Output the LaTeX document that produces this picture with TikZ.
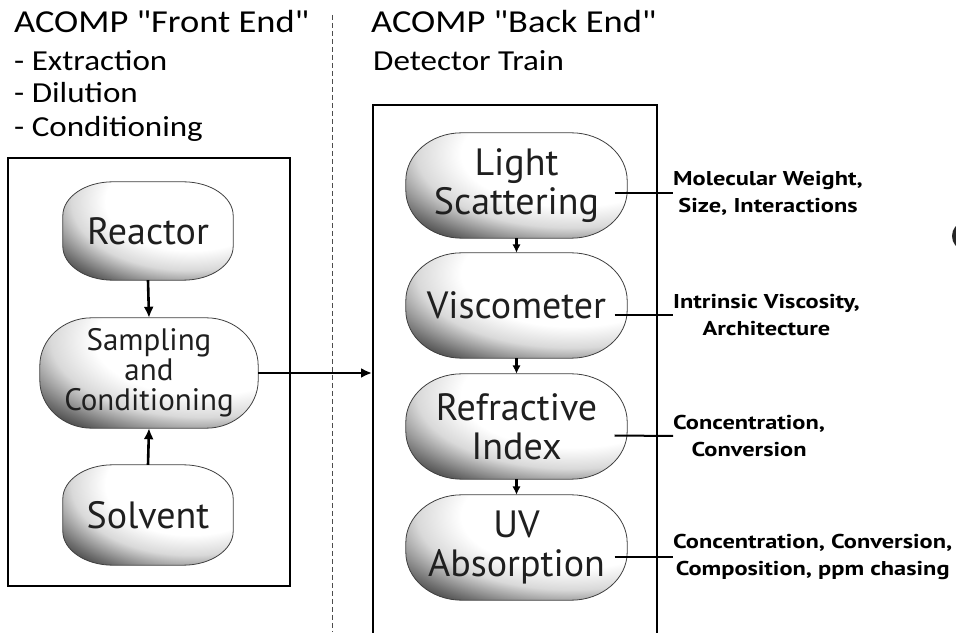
\documentclass[tikz,border=0pt]{standalone}
\usepackage{fontspec}
\setmainfont{Carlito}
\newfontfamily\headfont{Carlito}[FakeStretch=1.14, Ligatures=TeXOff]
\newfontfamily\nodefont{PT Sans}
\newfontfamily\labfont{PT Sans Bold}[FakeStretch=1.22]
\usetikzlibrary{arrows.meta,calc,backgrounds}
\pgfdeclareradialshading{glow}{\pgfpoint{0bp}{0bp}}{color(0bp)=(white); color(10bp)=(white); color(14bp)=(black!15); color(18bp)=(black!55); color(22bp)=(black!92); color(25bp)=(black); color(50bp)=(black)}
\newcommand\pillpath[3]{let \p1=(#1.south west), \p2=(#1.north east) in
 (\x1,\y1+#3pt) -- (\x1,\y2-#3pt) arc[start angle=180,end angle=90,x radius=#2,y radius=#3]
 -- (\x2-#2pt,\y2) arc[start angle=90,end angle=0,x radius=#2,y radius=#3]
 -- (\x2,\y1+#3pt) arc[start angle=0,end angle=-90,x radius=#2,y radius=#3]
 -- (\x1+#2pt,\y1) arc[start angle=270,end angle=180,x radius=#2,y radius=#3] -- cycle}
% node, rx, ry
\newcommand\pillshape[3]{%
 \begin{scope}
 \clip \pillpath{#1}{#2}{#3};
 \path[shade, shading=glow] let \p1=(#1.south west), \p2=(#1.north east),
   \p3=($(#1.center)+(0.25*\x2-0.25*\x1, 0.3*\y2-0.3*\y1)$) in
   (\p3) ellipse [x radius={1.25*(\x2-\x1)}, y radius={1.25*(\y2-\y1)}];
 \end{scope}
 \draw[pillbox] \pillpath{#1}{#2}{#3};}
\tikzset{
 pillbox/.style={draw=black!75, line width=0.8pt},
 pillnode/.style={inner sep=0pt, align=center, text=black!88, font=\nodefont},
 bigbox/.style={draw=black, line width=2pt, inner sep=0pt},
 conn/.style={draw=black, line width=2.6pt, -{Latex[length=11pt,width=10pt]}},
 smallconn/.style={draw=black, line width=2.2pt, -{Latex[length=8.5pt,width=8.5pt]}},
 tick/.style={line width=2pt},
 lab/.style={inner sep=0pt, align=center, font=\labfont\fontsize{20}{27}\selectfont, anchor=west},
 head/.style={inner sep=0pt, anchor=base west, font=\headfont\fontsize{32}{38}\selectfont},
 sub/.style={inner sep=0pt, anchor=base west, font=\headfont\fontsize{29}{32}\selectfont}
}
\begin{document}
\begin{tikzpicture}[x=1pt,y=1pt]
\clip (0,0) rectangle (956,632);
\useasboundingbox (0,0) rectangle (956,632);
% headings
\node[head] (h1) at (14,599) {ACOMP "Front End"};
\node[sub] (s1) at (14,561) {- Extraction};
\node[sub] (s2) at (14,529) {- Dilution};
\node[sub] (s3) at (14,495) {- Conditioning};
\node[head] (h2) at (371,599) {ACOMP "Back End"};
\node[sub] (s4) at (373,561) {Detector Train};
\coordinate (dtop) at (332,617);
\coordinate (dbot) at (332,0);
\draw[black!70, line width=0.9pt, dash pattern=on 5pt off 3pt] (dtop) -- (dbot);
% boxes
\node[bigbox, minimum width=282, minimum height=428] (lbox) at (149,260) {};
\node[bigbox, minimum width=284, minimum height=560] (rbox) at (515,247) {};
% left nodes
\node[pillnode, minimum width=170, minimum height=98, font=\nodefont\fontsize{38}{42}\selectfont] (reac) at (148,401) {Reactor};
\node[pillnode, minimum width=218, minimum height=110, font=\nodefont\fontsize{31}{30}\selectfont] (samp) at (149,259) {Sampling\\and\\Conditioning};
\node[pillnode, minimum width=170, minimum height=100, font=\nodefont\fontsize{38}{42}\selectfont] (solv) at (148,117) {Solvent};
% right nodes
\tikzset{rnode/.style={pillnode, minimum width=221, minimum height=105, font=\nodefont\fontsize{38}{39}\selectfont}}
\node[rnode] (ls) at (516.5,446.5) {Light\\Scattering};
\node[rnode] (vis) at (516.5,326.5) {Viscometer};
\node[rnode] (ri) at (516.5,205.5) {Refractive\\Index};
\node[rnode] (uv) at (516.5,84.5) {UV\\Absorption};
\begin{scope}[on background layer]
\pillshape{reac}{50}{34}
\pillshape{samp}{52}{48}
\pillshape{solv}{50}{34}
\pillshape{ls}{56}{48}
\pillshape{vis}{56}{48}
\pillshape{ri}{56}{48}
\pillshape{uv}{56}{48}
\end{scope}
% connectors
\draw[conn] (reac.south) -- (samp.north);
\draw[conn] (solv.north) -- (samp.south);
\draw[conn] (samp.east) -- (samp.east -| rbox.west);
\draw[smallconn] (ls.south) -- (vis.north);
\draw[smallconn] (vis.south) -- (ri.north);
\draw[smallconn] (ri.south) -- (uv.north);
% labels
\node[lab] (l1) at (673,439) {Molecular Weight,\\Size, Interactions};
\node[lab] (l2) at (673,317) {Intrinsic Viscosity,\\Architecture};
\node[lab] (l3) at (673,196) {Concentration,\\Conversion};
\node[lab] (l4) at (673,75) {Concentration, Conversion,\\Composition, ppm chasing};
\draw[tick] ($(ls.center)+(98,-7.5)$) -- (l1.west);
\draw[tick] ($(vis.center)+(98,-9.5)$) -- (l2.west);
\draw[tick] ($(ri.center)+(98,-9)$) -- (l3.west);
\draw[tick] ($(uv.center)+(98,-9.5)$) -- (l4.west);
% cut-off shape at right edge
\fill[black!85] (963,396) ellipse [x radius=11, y radius=13];
\end{tikzpicture}
\end{document}
